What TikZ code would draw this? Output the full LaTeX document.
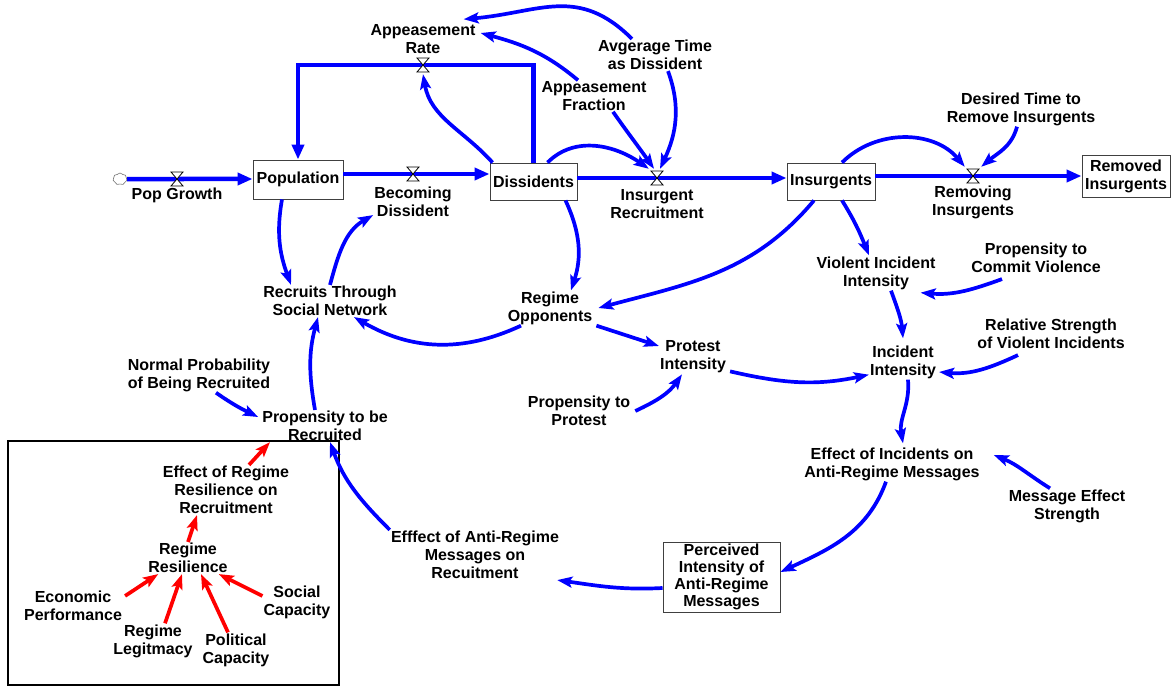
\documentclass[tikz,border=0pt]{standalone}
\usepackage{fontspec}
\setmainfont{Liberation Sans}
\usetikzlibrary{arrows.meta,shapes.symbols}
\definecolor{vblue}{RGB}{0,0,255}
\definecolor{vred}{RGB}{255,0,0}
\begin{document}
\begin{tikzpicture}[x=1pt,y=-1pt,
  lbl/.style={font=\bfseries\fontsize{16}{18}\selectfont, align=center, inner sep=1pt},
  stock/.style={lbl, draw=black!75, line width=0.9pt, fill=white, inner sep=0pt},
  pipe/.style={draw=vblue, line width=4.5pt, line join=miter, -{Triangle[length=15pt,width=12pt]}},
  link/.style={draw=vblue, line width=3.7pt, -{Stealth[length=15pt,width=11pt,inset=3pt]}},
  rlink/.style={link, draw=vred},
  valve/.style={minimum width=16pt, minimum height=18pt, inner sep=0pt},
  valveline/.style={draw=black, fill=white, line width=0.8pt},
]
\useasboundingbox (0,0) rectangle (1172,687);

% stocks
\node[stock, minimum width=90pt, minimum height=39pt] (pop) at (298,179.5) {Population};
\node[stock, minimum width=87pt, minimum height=37pt] (dis) at (533.5,181.5) {Dissidents};
\node[stock, minimum width=88pt, minimum height=37pt] (ins) at (831,181.5) {Insurgents};
\node[stock, minimum width=88pt, minimum height=42pt] (rem) at (1126,176) {Removed\\Insurgents};
\node[stock, font=\bfseries\fontsize{16}{16.8}\selectfont, minimum width=117pt, minimum height=70pt] (per) at (721.5,577) {Perceived\\Intensity of\\Anti-Regime\\Messages};

% source cloud and valves
\node[cloud, cloud puffs=7, cloud puff arc=110, draw=black!55, fill=white, minimum width=14pt, minimum height=12pt, inner sep=0pt, line width=0.6pt] (src) at (120,179) {};
\node[valve] (vpg) at (177,179) {};
\node[valve] (vbd) at (413,174) {};
\node[valve] (var) at (423,65) {};
\node[valve] (vir) at (657,178) {};
\node[valve] (vri) at (973,176) {};

% labels
\node[lbl] (tpg) at (177,195) {Pop Growth};
\node[lbl] (tbd) at (413,202) {Becoming\\Dissident};
\node[lbl] (tar) at (423,39) {Appeasement\\Rate};
\node[lbl] (taf) at (594,96) {Appeasement\\Fraction};
\node[lbl] (tat) at (655,55) {Avgerage Time\\as Dissident};
\node[lbl] (tir) at (657,204) {Insurgent\\Recruitment};
\node[lbl] (tdt) at (1021,109) {Desired Time to\\Remove Insurgents};
\node[lbl] (tri) at (973,202) {Removing\\Insurgents};
\node[lbl] (trs) at (330,301) {Recruits Through\\Social Network};
\node[lbl] (tro) at (550,308) {Regime\\Opponents};
\node[lbl] (tnp) at (199,375) {Normal Probability\\of Being Recruited};
\node[lbl] (tpr) at (325,426) {Propensity to be\\Recruited};
\node[lbl] (tpi) at (693,357) {Protest\\Intensity};
\node[lbl] (tpp) at (579,411) {Propensity to\\Protest};
\node[lbl] (tvi) at (876,273) {Violent Incident\\Intensity};
\node[lbl] (tpv) at (1036,258) {Propensity to\\Commit Violence};
\node[lbl] (tii) at (903,362) {Incident\\Intensity};
\node[lbl] (trv) at (1051,334) {Relative Strength\\of Violent Incidents};
\node[lbl] (tei) at (892,464) {Effect of Incidents on\\Anti-Regime Messages};
\node[lbl] (tme) at (1067,506) {Message Effect\\Strength};
\node[lbl] (tea) at (475,555) {Efffect of Anti-Regime\\Messages on\\Recuitment};
\node[lbl] (tere) at (226,490) {Effect of Regime\\Resilience on\\Recruitment};
\node[lbl] (trr) at (188,558) {Regime\\Resilience};
\node[lbl] (tec) at (73,606) {Economic\\Performance};
\node[lbl] (trl) at (153,641) {Regime\\Legitmacy};
\node[lbl] (tpc) at (236,650) {Political\\Capacity};
\node[lbl] (tsc) at (297,602) {Social\\Capacity};

% frame
\draw[line width=2pt] (8,441) rectangle (339,685);

% pipes
\draw[pipe] (src) -- (pop.west |- src);
\draw[pipe] (pop.east |- vbd) -- (dis.west |- vbd);
\draw[pipe] (dis.north) |- (var.center) -| (pop.north);
\draw[pipe] (dis.east |- vir) -- (ins.west |- vir);
\draw[pipe] (ins.east |- vri) -- (rem.west |- vri);

% valve symbols
\foreach \v in {vpg,vbd,var,vir,vri}{
  \draw[valveline] ([shift={(-6pt,7pt)}]\v.center) -- ([shift={(6pt,7pt)}]\v.center)
    -- ([shift={(-6pt,-7pt)}]\v.center) -- ([shift={(6pt,-7pt)}]\v.center) -- cycle;
}

% information links (blue)
\draw[link] ([xshift=3pt]dis.north west) to[out=132,in=-80] (var.south);
\draw[link] ([xshift=-23pt]tat.north) to[out=135,in=5,looseness=1.15] ([xshift=-13pt,yshift=4pt]tar.north east);
\draw[link] ([xshift=-16pt]taf.north) to[out=140,in=-15] ([xshift=4pt,yshift=6pt]tar.east);
\draw[link] ([xshift=13pt]tat.south) to[out=-70,in=65] ([xshift=3pt]vir.north);
\draw[link] ([xshift=19pt]taf.south) to[out=-55,in=125] ([xshift=-3pt]vir.north);
\draw[link] ([xshift=14pt]dis.north) to[out=45,in=145] (vir.north west);
\draw[link] ([xshift=-4pt]tdt.south) to[out=-105,in=40] (vri.north east);
\draw[link] ([xshift=11pt]ins.north) to[out=45,in=130] (vri.north west);

\draw[link] ([xshift=-16pt]pop.south) to[out=-100,in=110] ([xshift=-39pt]trs.north);
\draw[link] (trs.north) to[out=75,in=-150] ([yshift=3pt]tbd.south west);
\draw[link] ([xshift=32pt]dis.south) to[out=-65,in=72] ([xshift=21pt]tro.north);
\draw[link] ([xshift=-17pt]ins.south) to[out=-130,in=15] ([xshift=5pt]tro.east);
\draw[link] ([xshift=-29pt]tro.south) to[out=-155,in=-30] ([xshift=24pt]trs.south);
\draw[link] ([xshift=17pt]tnp.south) to[out=-35,in=154] ([xshift=-3pt,yshift=9pt]tpr.west);
\draw[link] ([xshift=-10pt]tpr.north) to[out=100,in=-105] ([xshift=-12pt]trs.south);
\draw[link] (tea.north west) to[out=135,in=-70] ([xshift=5pt]tpr.south);

\draw[link] ([xshift=3pt]tro.south east) -- ([yshift=11pt]tpi.west);
\draw[link] ([xshift=4pt]tpp.east) to[out=25,in=-125] ([xshift=-11pt]tpi.south);
\draw[link] ([xshift=3pt,yshift=3pt]tpi.south east) to[out=-13,in=-168] ([yshift=5pt]tii.south west);
\draw[link] ([xshift=11pt]ins.south) to[out=-58,in=112] ([xshift=-7pt]tvi.north);
\draw[link] ([xshift=-34pt,yshift=-5pt]tpv.south) to[out=-160,in=-5] ([xshift=-16pt,yshift=-2pt]tvi.south east);
\draw[link] ([xshift=15pt]tvi.south) to[out=-70,in=95] ([yshift=6pt]tii.north);
\draw[link] ([xshift=-33pt,yshift=-5pt]trv.south) to[out=-155,in=-5] ([xshift=2pt,yshift=-10pt]tii.east);
\draw[link] ([xshift=5pt]tii.south) to[out=-85,in=100] ([xshift=11pt,yshift=3pt]tei.north);
\draw[link] ([xshift=-17pt]tme.north) to[out=148,in=-22] ([xshift=13pt,yshift=9pt]tei.east);
\draw[link] ([xshift=-6pt]tei.south) to[out=-110,in=25] ([yshift=5pt]per.east);
\draw[link] ([yshift=-11pt]per.west) to[out=183,in=-8] ([xshift=-3pt]tea.south east);

% red links inside the frame
\draw[rlink] ([xshift=23pt]tere.north) -- ([xshift=-55pt]tpr.south);
\draw[rlink] (trr.north) -- ([xshift=-29pt]tere.south);
\draw[rlink] ([xshift=2pt,yshift=-6pt]tec.north east) -- ([xshift=11pt]trr.south west);
\draw[rlink] ([xshift=12pt]trl.north) -- ([xshift=-6pt]trr.south);
\draw[rlink] ([xshift=-8pt]tpc.north) -- ([xshift=13pt]trr.south);
\draw[rlink] ([yshift=6pt]tsc.west) -- ([xshift=-10pt]trr.south east);
\end{tikzpicture}
\end{document}
